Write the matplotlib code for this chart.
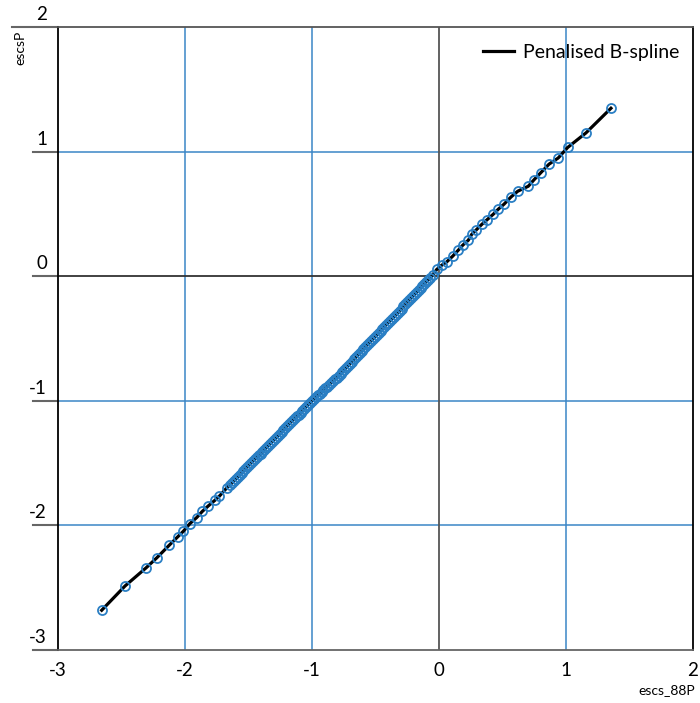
import numpy as np
import matplotlib.pyplot as plt
import matplotlib.transforms as mtransforms

plt.rcParams['font.family'] = ['Lato', 'DejaVu Sans']

# lower tail
x_low = [-2.656, -2.472, -2.307, -2.223, -2.124, -2.057, -2.013, -1.961, -1.908,
         -1.864, -1.817, -1.764, -1.730, -1.672]
y_low = [-2.681, -2.486, -2.341, -2.261, -2.159, -2.092, -2.047, -1.985, -1.937,
         -1.888, -1.844, -1.798, -1.766, -1.700]

# dense centre of the distribution
x_mid = [-1.645, -1.630, -1.615, -1.600, -1.585, -1.570, -1.555, -1.540, -1.525, -1.510,
         -1.495, -1.480, -1.465, -1.450, -1.435, -1.420, -1.405, -1.390, -1.375, -1.360,
         -1.345, -1.330, -1.315, -1.300, -1.285, -1.270, -1.255, -1.240, -1.225, -1.210,
         -1.195, -1.180, -1.165, -1.150, -1.135, -1.120, -1.105, -1.090, -1.075, -1.060,
         -1.045, -1.030, -1.015, -1.000, -0.985, -0.970, -0.955, -0.940, -0.925, -0.910,
         -0.895, -0.880, -0.865, -0.850, -0.835, -0.820, -0.805, -0.790, -0.775, -0.760,
         -0.745, -0.730, -0.715, -0.700, -0.685, -0.670, -0.655, -0.640, -0.625, -0.610,
         -0.595, -0.580, -0.565, -0.550, -0.535, -0.520, -0.505, -0.490, -0.475, -0.460,
         -0.445, -0.430, -0.415, -0.400, -0.385, -0.370, -0.355, -0.340, -0.325, -0.310,
         -0.295, -0.280, -0.265, -0.250, -0.235, -0.220, -0.205, -0.190, -0.175, -0.160,
         -0.145, -0.130, -0.115, -0.100, -0.085, -0.070]
y_mid = [-1.675, -1.659, -1.643, -1.628, -1.612, -1.596, -1.581, -1.565, -1.549, -1.533,
         -1.518, -1.502, -1.486, -1.471, -1.455, -1.439, -1.424, -1.408, -1.392, -1.377,
         -1.361, -1.345, -1.329, -1.314, -1.298, -1.282, -1.267, -1.251, -1.235, -1.220,
         -1.204, -1.188, -1.173, -1.157, -1.141, -1.126, -1.110, -1.094, -1.078, -1.063,
         -1.047, -1.031, -1.016, -1.000, -0.986, -0.972, -0.957, -0.943, -0.929, -0.915,
         -0.900, -0.886, -0.872, -0.858, -0.843, -0.829, -0.815, -0.799, -0.783, -0.766,
         -0.750, -0.734, -0.717, -0.701, -0.685, -0.668, -0.652, -0.636, -0.619, -0.603,
         -0.587, -0.570, -0.554, -0.538, -0.521, -0.505, -0.488, -0.472, -0.456, -0.439,
         -0.423, -0.407, -0.390, -0.374, -0.358, -0.341, -0.325, -0.309, -0.292, -0.276,
         -0.260, -0.243, -0.227, -0.211, -0.194, -0.178, -0.161, -0.145, -0.129, -0.112,
         -0.096, -0.080, -0.063, -0.047, -0.031, -0.014]

# upper tail
x_up = [-0.050, -0.018, 0.021, 0.061, 0.108, 0.152, 0.187, 0.231, 0.257, 0.291,
        0.336, 0.380, 0.428, 0.467, 0.512, 0.567, 0.620, 0.703, 0.750, 0.803,
        0.866, 0.939, 1.013, 1.157, 1.354]
y_up = [0.010, 0.054, 0.088, 0.115, 0.161, 0.209, 0.249, 0.289, 0.335, 0.369,
        0.415, 0.455, 0.498, 0.538, 0.578, 0.636, 0.682, 0.722, 0.776, 0.832,
        0.899, 0.949, 1.033, 1.150, 1.348]

ticks = [-3, -2, -1, 0, 1, 2]

x = np.array(x_low + x_mid + x_up)
y = np.array(y_low + y_mid + y_up)

blue = '#3b86c6'
fig = plt.figure(figsize=(7, 7.03), dpi=100)
ax = fig.add_axes([58 / 700, 53 / 703, 635 / 700, 623 / 703])
ax.set_xlim(-3, 2)
ax.set_ylim(-3, 2)

# grid: blue lines, darker lines through zero
for v in [-2, -1, 1]:
    ax.axvline(v, color=blue, lw=1.1, zorder=1)
    ax.axhline(v, color=blue, lw=1.1, zorder=1)
ax.axvline(0, color='#555555', lw=1.3, zorder=1)
ax.axhline(0, color='#333333', lw=1.3, zorder=1)

ax.plot(x, y, color='black', lw=2.3, zorder=2, label='Penalised B-spline')
ax.plot(x, y, 'o', mfc='none', mec='#2a7fc4', ms=6.5, mew=1.3, zorder=3)

ax.spines['left'].set_color('black')
ax.spines['right'].set_color('black')
ax.spines['top'].set_color('#555555')
ax.spines['bottom'].set_color('#666666')
for s in ax.spines.values():
    s.set_linewidth(1.3)

ax.set_xticks([])
ax.set_yticks([])

# y ticks as short lines sticking out to the left, labels sitting on top
trans = mtransforms.blended_transform_factory(ax.transAxes, ax.transData)
for v in ticks:
    tick_len = 46 if v == 2 else 25
    ax.plot([-tick_len / 635, 0], [v, v], transform=trans, color='#666666',
            lw=1.5, clip_on=False)
    ax.annotate(str(v), xy=(0, v), xycoords=trans, xytext=(-11, 4),
                textcoords='offset pixels', ha='right', va='bottom', fontsize=13.5)

for v in ticks:
    ax.annotate(str(v), xy=(v, 0), xycoords=('data', 'axes fraction'),
                xytext=(0, -12), textcoords='offset pixels', ha='center', va='top',
                fontsize=13.5)

fig.text(695 / 700, 1 - 690 / 703, 'escs_88P', ha='right', va='center', fontsize=10)
fig.text(20 / 700, 1 - 31 / 703, 'escsP', ha='center', va='top', rotation=90,
         fontsize=10)

ax.legend(loc='upper right', bbox_to_anchor=(1, 0.995), frameon=False, fontsize=14,
          handlelength=1.6, handletextpad=0.46, borderaxespad=0.32)

fig.savefig('out.png', dpi=100)
